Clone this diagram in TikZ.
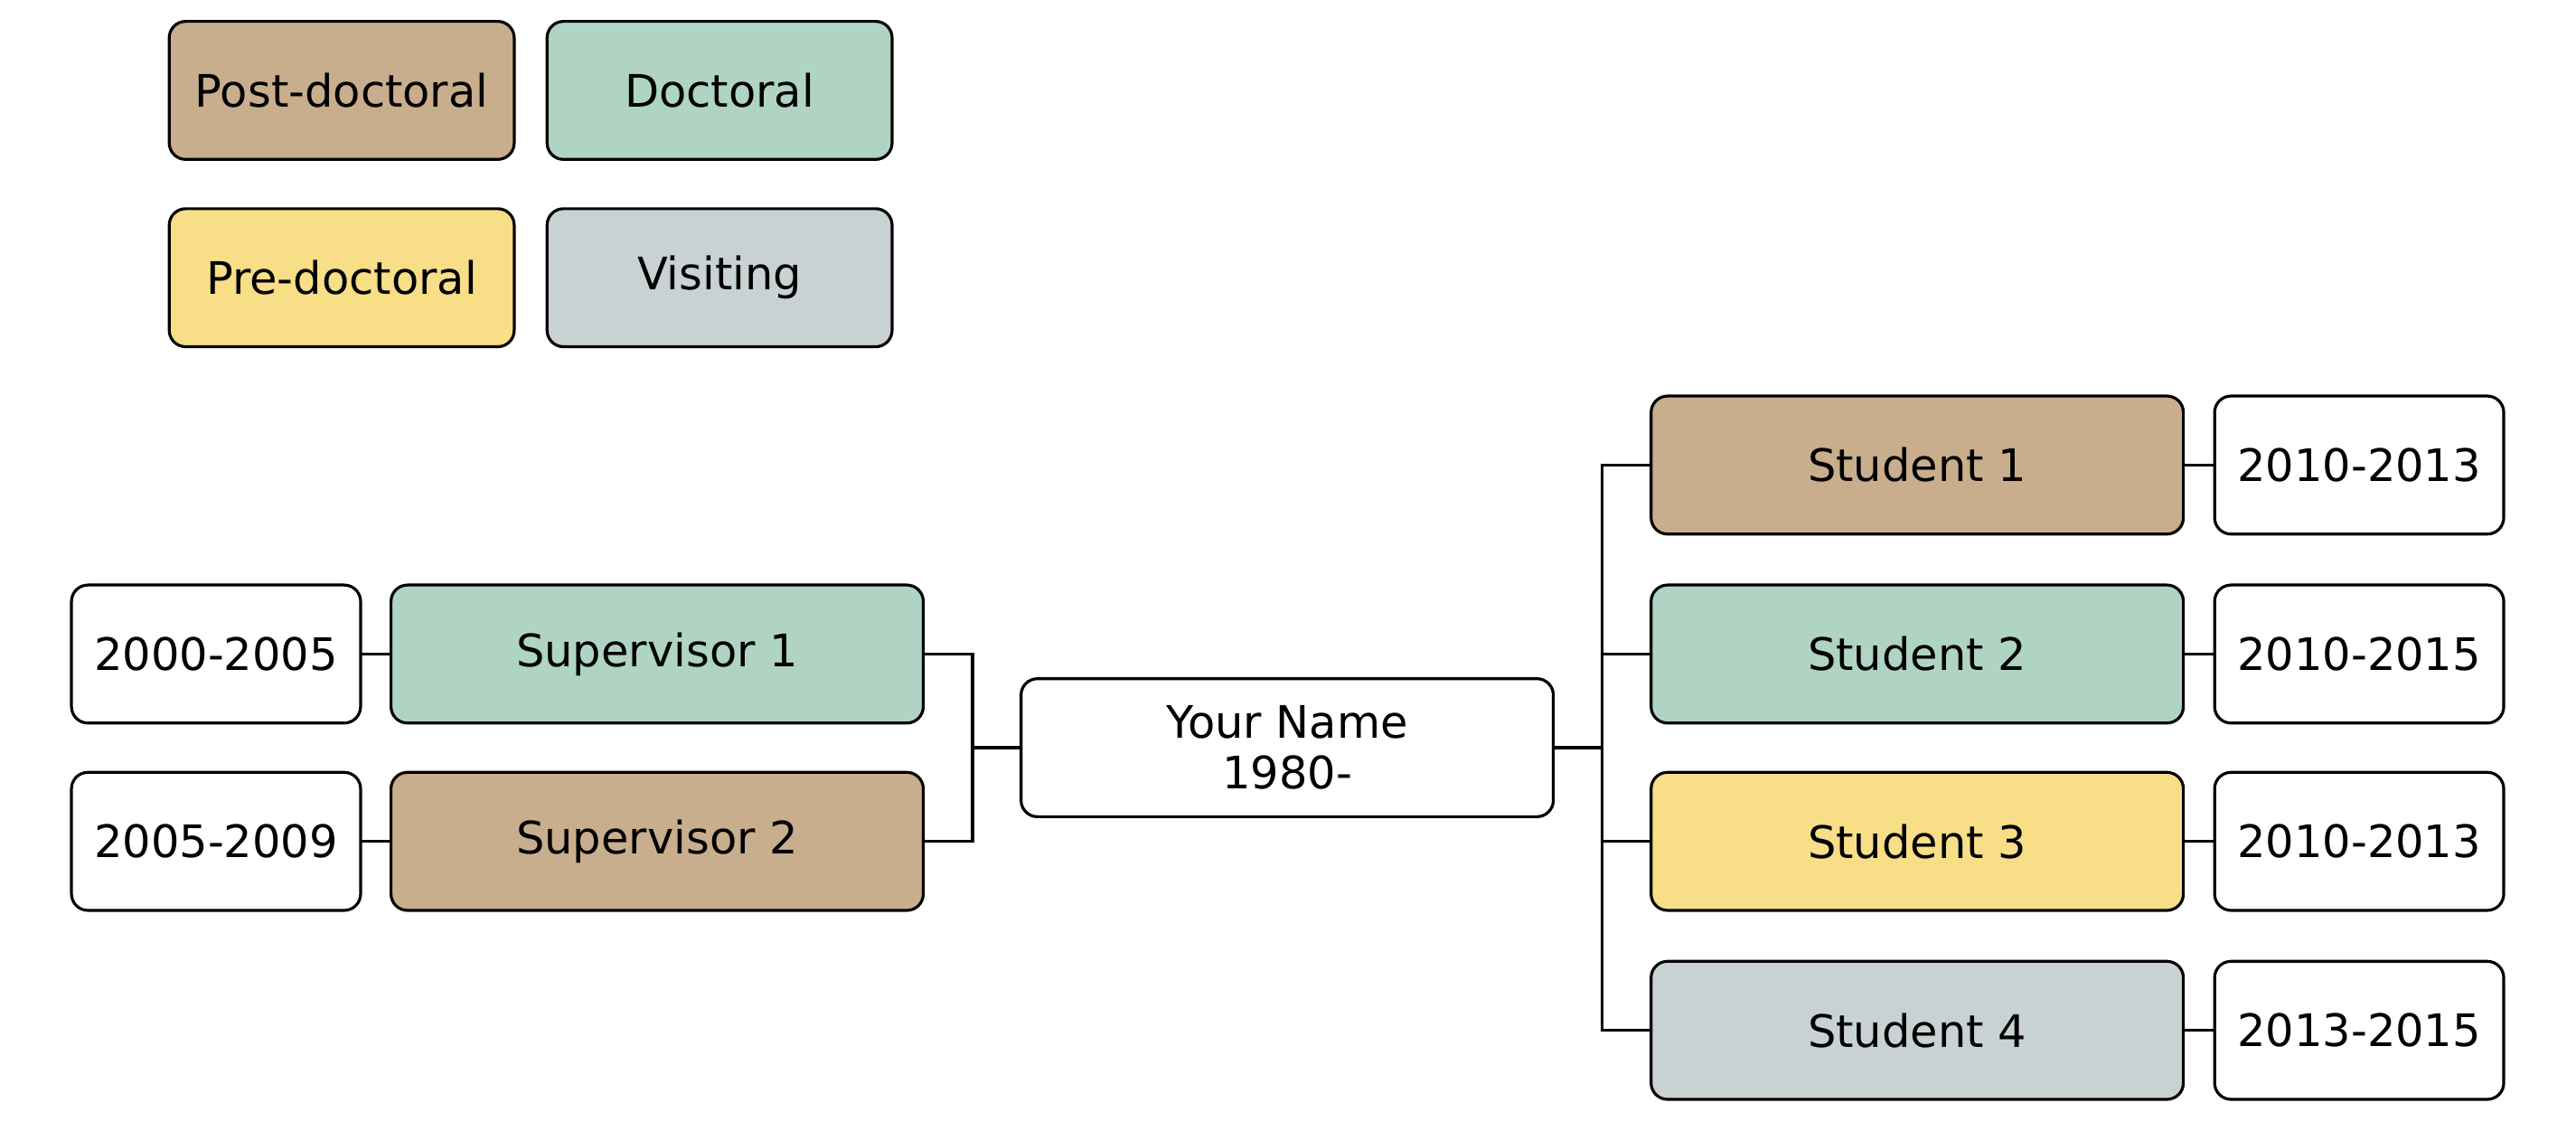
\documentclass[tikz,border=0pt]{standalone}
\usepackage{fontspec}
\setmainfont{DejaVu Sans}
\usepackage{tikz}
\definecolor{postdoc}{RGB}{201,174,141}
\definecolor{doc}{RGB}{175,212,196}
\definecolor{predoc}{RGB}{247,222,135}
\definecolor{visit}{RGB}{201,210,211}
\begin{document}
\begin{tikzpicture}[every node/.style={draw, line width=1pt, rounded corners=0.2cm, minimum height=1.68cm, outer sep=0pt, align=center, font=\fontsize{15.5}{17.5}\selectfont},
  legend/.style={minimum width=4.2cm},
  person/.style={minimum width=6.48cm},
  years/.style={minimum width=3.52cm, fill=white},
  link/.style={line width=1pt}]
\useasboundingbox (0,0) rectangle (31.36,-13.76);

\node[legend, fill=postdoc] (lpost) at (4.16,-1.10) {Post-doctoral};
\node[legend, fill=doc] (ldoc) at (8.76,-1.10) {Doctoral};
\node[legend, fill=predoc] (lpre) at (4.16,-3.38) {Pre-doctoral};
\node[legend, fill=visit] (lvis) at (8.76,-3.38) {Visiting};

\node[years] (ysup1) at (2.63,-7.96) {2000-2005};
\node[years] (ysup2) at (2.63,-10.24) {2005-2009};
\node[person, fill=doc] (sup1) at (8.00,-7.96) {Supervisor 1};
\node[person, fill=postdoc] (sup2) at (8.00,-10.24) {Supervisor 2};

\node[person, fill=white] (me) at (15.67,-9.10) {Your Name\\1980-};

\node[person, fill=postdoc] (stu1) at (23.34,-5.66) {Student 1};
\node[person, fill=doc] (stu2) at (23.34,-7.96) {Student 2};
\node[person, fill=predoc] (stu3) at (23.34,-10.24) {Student 3};
\node[person, fill=visit] (stu4) at (23.34,-12.54) {Student 4};
\node[years] (ystu1) at (28.72,-5.66) {2010-2013};
\node[years] (ystu2) at (28.72,-7.96) {2010-2015};
\node[years] (ystu3) at (28.72,-10.24) {2010-2013};
\node[years] (ystu4) at (28.72,-12.54) {2013-2015};

\coordinate (lj) at (11.84,-9.10);
\coordinate (rj) at (19.50,-9.10);

\draw[link] (ysup1) -- (sup1);
\draw[link] (ysup2) -- (sup2);
\draw[link] (sup1.east) -| (lj);
\draw[link] (sup2.east) -| (lj);
\draw[link] (lj) -- (me.west);
\draw[link] (me.east) -- (rj);
\foreach \i in {1,...,4}{
  \draw[link] (rj) |- (stu\i.west);
  \draw[link] (stu\i) -- (ystu\i);
}
\end{tikzpicture}
\end{document}
